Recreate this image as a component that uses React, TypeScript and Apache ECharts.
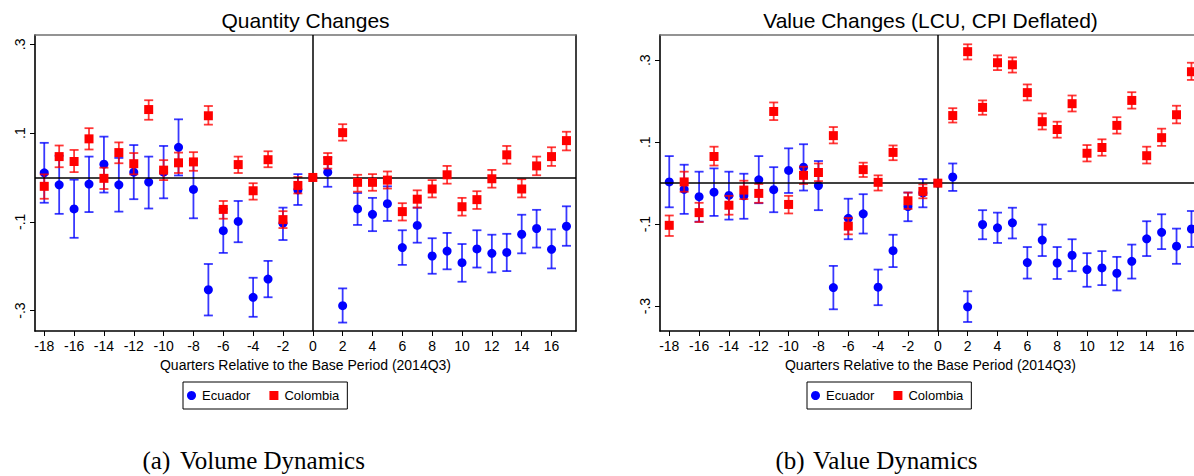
import React, { useEffect, useRef } from "react";
import * as echarts from "echarts";

// Event-time quarters relative to 2014Q3
const quarters = [
  -18, -17, -16, -15, -14, -13, -12, -11, -10, -9, -8, -7, -6, -5, -4, -3, -2, -1,
  0, 1, 2, 3, 4, 5, 6, 7, 8, 9, 10, 11, 12, 13, 14, 15, 16, 17,
];

// Quantity changes: Ecuador
const ecuQty = [
  0.0105, -0.0165, -0.071, -0.015, 0.03, -0.0165, 0.012, -0.0105, 0.012, 0.068, -0.027, -0.253,
  -0.12, -0.099, -0.27, -0.229, -0.103, -0.028, 0, 0.012, -0.289, -0.071, -0.083, -0.059,
  -0.158, -0.108, -0.177, -0.166, -0.192, -0.161, -0.171, -0.169, -0.128, -0.115, -0.162, -0.11,
];
const ecuQtyLo = [
  -0.057, -0.082, -0.136, -0.078, -0.034, -0.077, -0.049, -0.07, -0.047, 0.0045, -0.092, -0.311,
  -0.17, -0.146, -0.314, -0.27, -0.141, -0.062, 0, -0.021, -0.327, -0.107, -0.121, -0.098,
  -0.197, -0.147, -0.217, -0.207, -0.235, -0.203, -0.214, -0.211, -0.171, -0.158, -0.205, -0.154,
];
const ecuQtyHi = [
  0.078, 0.049, -0.005, 0.047, 0.092, 0.044, 0.073, 0.047, 0.071, 0.131, 0.038, -0.195,
  -0.071, -0.053, -0.226, -0.188, -0.068, 0.0075, 0, 0.045, -0.25, -0.035, -0.046, -0.02,
  -0.119, -0.068, -0.137, -0.125, -0.15, -0.119, -0.129, -0.127, -0.084, -0.073, -0.117, -0.065,
];

// Quantity changes: Colombia
const colQty = [
  -0.02, 0.047, 0.036, 0.087, -0.002, 0.056, 0.031, 0.153, 0.0165, 0.033, 0.035, 0.139,
  -0.072, 0.029, -0.03, 0.04, -0.095, -0.018, 0, 0.038, 0.101, -0.011, -0.011, -0.006,
  -0.077, -0.049, -0.026, 0.006, -0.066, -0.05, -0.003, 0.051, -0.026, 0.026, 0.047, 0.083,
];
const colQtyLo = [
  -0.048, 0.023, 0.012, 0.063, -0.026, 0.032, 0.007, 0.13, -0.006, 0.01, 0.015, 0.119,
  -0.093, 0.01, -0.05, 0.023, -0.114, -0.036, 0, 0.02, 0.083, -0.032, -0.03, -0.025,
  -0.097, -0.068, -0.045, -0.014, -0.086, -0.071, -0.023, 0.031, -0.045, 0.005, 0.026, 0.061,
];
const colQtyHi = [
  0.007, 0.072, 0.062, 0.111, 0.022, 0.079, 0.055, 0.174, 0.039, 0.056, 0.057, 0.161,
  -0.053, 0.047, -0.013, 0.059, -0.076, 0.001, 0, 0.055, 0.12, 0.006, 0.0075, 0.0135,
  -0.058, -0.029, -0.006, 0.026, -0.046, -0.031, 0.017, 0.071, -0.004, 0.047, 0.068, 0.103,
];

// Value changes (LCU, CPI deflated): Ecuador
const ecuVal = [
  0.003, -0.015, -0.033, -0.022, -0.03, -0.031, 0.008, -0.016, 0.031, 0.039, -0.006, -0.255,
  -0.086, -0.075, -0.254, -0.165, -0.057, -0.024, 0, 0.015, -0.302, -0.101, -0.109, -0.097,
  -0.194, -0.139, -0.195, -0.176, -0.211, -0.207, -0.22, -0.191, -0.136, -0.12, -0.154, -0.112,
];
const ecuValLo = [
  -0.059, -0.075, -0.094, -0.08, -0.089, -0.087, -0.049, -0.071, -0.024, -0.018, -0.066, -0.308,
  -0.137, -0.123, -0.298, -0.205, -0.093, -0.059, 0, -0.019, -0.339, -0.137, -0.146, -0.135,
  -0.233, -0.178, -0.234, -0.215, -0.253, -0.249, -0.262, -0.233, -0.178, -0.161, -0.197, -0.156,
];
const ecuValHi = [
  0.066, 0.045, 0.028, 0.036, 0.028, 0.023, 0.066, 0.039, 0.085, 0.095, 0.054, -0.202,
  -0.038, -0.027, -0.211, -0.126, -0.023, 0.01, 0, 0.048, -0.264, -0.066, -0.072, -0.06,
  -0.156, -0.101, -0.156, -0.137, -0.171, -0.166, -0.18, -0.15, -0.093, -0.076, -0.111, -0.068,
];

// Value changes (LCU, CPI deflated): Colombia
const colVal = [
  -0.103, 0.003, -0.072, 0.065, -0.054, -0.017, -0.025, 0.175, -0.052, 0.019, 0.026, 0.116,
  -0.105, 0.033, 0.002, 0.075, -0.043, -0.02, 0, 0.165, 0.321, 0.185, 0.294, 0.289,
  0.221, 0.15, 0.131, 0.194, 0.073, 0.087, 0.141, 0.202, 0.067, 0.111, 0.167, 0.272,
];
const colValLo = [
  -0.129, -0.021, -0.095, 0.043, -0.077, -0.039, -0.048, 0.154, -0.074, -0.002, 0.005, 0.097,
  -0.125, 0.015, -0.018, 0.056, -0.063, -0.037, 0, 0.148, 0.302, 0.167, 0.276, 0.27,
  0.202, 0.131, 0.111, 0.175, 0.053, 0.067, 0.121, 0.182, 0.048, 0.091, 0.146, 0.252,
];
const colValHi = [
  -0.079, 0.028, -0.048, 0.089, -0.031, 0.006, -0.002, 0.197, -0.031, 0.04, 0.048, 0.137,
  -0.085, 0.05, 0.019, 0.092, -0.023, -0.003, 0, 0.183, 0.339, 0.202, 0.312, 0.307,
  0.241, 0.17, 0.15, 0.214, 0.093, 0.107, 0.161, 0.222, 0.089, 0.133, 0.189, 0.294,
];

const xTicks = [-18, -16, -14, -12, -10, -8, -6, -4, -2, 0, 2, 4, 6, 8, 10, 12, 14, 16];
const yTicks = [-0.3, -0.1, 0.1, 0.3];

const panelTitles = ["Quantity Changes", "Value Changes (LCU, CPI Deflated)"];
const captionTags = ["(a)", "(b)"];
const captionTexts = ["Volume Dynamics", "Value Dynamics"];
const xTitle = "Quarters Relative to the Base Period (2014Q3)";
const countries = ["Ecuador", "Colombia"];

const SANS = "'Liberation Sans', Arial, Helvetica, sans-serif";
const SERIF = "'Liberation Serif', 'Times New Roman', serif";
const BLUE = "#0000ff";
const RED = "#ff0000";

const fmtY = (v: number) => {
  const s = v.toFixed(1);
  return s.replace("0.", ".");
};

function errorBars(name: string, idx: number, lo: number[], hi: number[], color: string, z: number) {
  return {
    type: "custom",
    name,
    xAxisIndex: idx,
    yAxisIndex: idx,
    z,
    silent: true,
    data: quarters.map((q, i) => [q, lo[i], hi[i]]),
    encode: { x: 0, y: [1, 2] },
    renderItem: (_params: any, api: any) => {
      const x = api.value(0);
      const l = api.value(1);
      const h = api.value(2);
      if (l === h) return null;
      const a = api.coord([x, l]);
      const b = api.coord([x, h]);
      const w = 4.5;
      const style = { stroke: color, lineWidth: 1.8 };
      return {
        type: "group",
        children: [
          { type: "line", shape: { x1: a[0], y1: a[1], x2: b[0], y2: b[1] }, style },
          { type: "line", shape: { x1: a[0] - w, y1: a[1], x2: a[0] + w, y2: a[1] }, style },
          { type: "line", shape: { x1: b[0] - w, y1: b[1], x2: b[0] + w, y2: b[1] }, style },
        ],
      };
    },
  };
}

function points(name: string, idx: number, vals: number[], color: string, symbol: string, z: number) {
  return {
    type: "scatter",
    name,
    xAxisIndex: idx,
    yAxisIndex: idx,
    z,
    symbol,
    symbolSize: 9,
    itemStyle: { color, opacity: 1 },
    data: quarters.map((q, i) => [q, vals[i]]),
  };
}

function refLines(idx: number) {
  return {
    type: "scatter",
    xAxisIndex: idx,
    yAxisIndex: idx,
    z: 1,
    silent: true,
    data: [],
    markLine: {
      silent: true,
      symbol: "none",
      label: { show: false },
      lineStyle: { color: "#000", width: 1.5, type: "solid" },
      data: [{ xAxis: 0 }, { yAxis: 0 }],
    },
  };
}

const X_MIN = -18.62;
const X_MAX = 17.64;
const yRanges = [
  [-0.346, 0.321],
  [-0.361, 0.3617],
];
const gridLefts = [35, 660];

function buildOption() {
  const grid = gridLefts.map((left) => ({
    left,
    top: 35,
    width: 541,
    height: 296,
    containLabel: false,
    outerBoundsMode: "none",
  }));

  const xAxis: any[] = [];
  const yAxis: any[] = [];
  [0, 1].forEach((g) => {
    xAxis.push({
      type: "value",
      gridIndex: g,
      min: X_MIN,
      max: X_MAX,
      position: "bottom",
      name: xTitle,
      nameLocation: "middle",
      nameGap: 23,
      nameTextStyle: { fontFamily: SANS, fontSize: 14, color: "#000" },
      axisLine: { show: true, onZero: false, lineStyle: { color: "#000", width: 1.6 } },
      axisTick: { show: true, length: 5, customValues: xTicks, lineStyle: { color: "#000", width: 1 } },
      axisLabel: {
        customValues: xTicks,
        margin: 8,
        fontFamily: SANS,
        fontSize: 14,
        color: "#000",
        formatter: (v: number) => String(v),
      },
      splitLine: { show: false },
    });
    yAxis.push({
      type: "value",
      gridIndex: g,
      min: yRanges[g][0],
      max: yRanges[g][1],
      position: "left",
      axisLine: { show: true, onZero: false, lineStyle: { color: "#000", width: 1.6 } },
      axisTick: { show: true, length: 5, customValues: yTicks, lineStyle: { color: "#000", width: 1 } },
      axisLabel: {
        customValues: yTicks,
        rotate: 90,
        margin: 8,
        fontFamily: SANS,
        fontSize: 14,
        color: "#000",
        formatter: fmtY,
      },
      splitLine: { show: false },
    });
  });
  // frame: top edges and the right edge of the first panel
  [0, 1].forEach((g) => {
    xAxis.push({
      type: "value",
      gridIndex: g,
      min: X_MIN,
      max: X_MAX,
      position: "top",
      axisLine: { show: true, onZero: false, lineStyle: { color: "#707070", width: 1.5 } },
      axisTick: { show: false },
      axisLabel: { show: false },
      splitLine: { show: false },
    });
    yAxis.push({
      type: "value",
      gridIndex: g,
      min: yRanges[g][0],
      max: yRanges[g][1],
      position: "right",
      axisLine: { show: true, onZero: false, lineStyle: { color: "#000", width: 1.5 } },
      axisTick: { show: false },
      axisLabel: { show: false },
      splitLine: { show: false },
    });
  });

  const series: any[] = [];
  const panels = [
    { e: ecuQty, eLo: ecuQtyLo, eHi: ecuQtyHi, c: colQty, cLo: colQtyLo, cHi: colQtyHi },
    { e: ecuVal, eLo: ecuValLo, eHi: ecuValHi, c: colVal, cLo: colValLo, cHi: colValHi },
  ];
  panels.forEach((p, g) => {
    series.push(refLines(g));
    series.push(errorBars(countries[0] + " CI", g, p.eLo, p.eHi, "rgba(0,0,255,0.78)", 2));
    series.push(points(countries[0], g, p.e, BLUE, "circle", 3));
    series.push(errorBars(countries[1] + " CI", g, p.cLo, p.cHi, "rgba(255,0,0,0.78)", 4));
    series.push(points(countries[1], g, p.c, RED, "rect", 5));
  });

  const legendLefts = [183, 807];
  const legend = legendLefts.map((left) => ({
    left,
    top: 382,
    orient: "horizontal",
    selectedMode: false,
    data: [
      { name: countries[0], icon: "circle" },
      { name: countries[1], icon: "rect" },
    ],
    itemWidth: 9,
    itemHeight: 9,
    itemGap: 19,
    padding: [7, 8, 7, 4],
    borderColor: "#000",
    borderWidth: 1,
    backgroundColor: "#fff",
    textStyle: { fontFamily: SANS, fontSize: 13, color: "#000", padding: [0, 0, 0, 1] },
  }));

  const titleCenters = [305.5, 930.5];
  const graphic: any[] = [];
  titleCenters.forEach((cx, g) => {
    graphic.push({
      type: "text",
      x: cx,
      y: 20,
      style: {
        text: panelTitles[g],
        fontFamily: SANS,
        fontSize: 21,
        fill: "#000",
        textAlign: "center",
        textVerticalAlign: "middle",
      },
    });
  });
  const tagLefts = [142.5, 775.5];
  const captionLefts = [180, 813];
  [0, 1].forEach((g) => {
    graphic.push({
      type: "text",
      x: tagLefts[g],
      y: 460,
      style: {
        text: captionTags[g],
        fontFamily: SERIF,
        fontSize: 25,
        fill: "#000",
        textAlign: "left",
        textVerticalAlign: "middle",
      },
    });
    graphic.push({
      type: "text",
      x: captionLefts[g],
      y: 460,
      style: {
        text: captionTexts[g],
        fontFamily: SERIF,
        fontSize: 25,
        fill: "#000",
        textAlign: "left",
        textVerticalAlign: "middle",
      },
    });
  });

  return {
    animation: false,
    backgroundColor: "#fff",
    grid,
    xAxis,
    yAxis,
    legend,
    series,
    graphic,
  };
}

export default function App() {
  const ref = useRef<HTMLDivElement>(null);
  useEffect(() => {
    if (!ref.current) return;
    const chart = echarts.init(ref.current, null, { renderer: "svg" });
    chart.setOption(buildOption() as any);
    return () => chart.dispose();
  }, []);
  return (
    <div
      ref={ref}
      style={{ position: "fixed", left: 0, top: 0, width: 1194, height: 476, background: "#fff" }}
    />
  );
}
